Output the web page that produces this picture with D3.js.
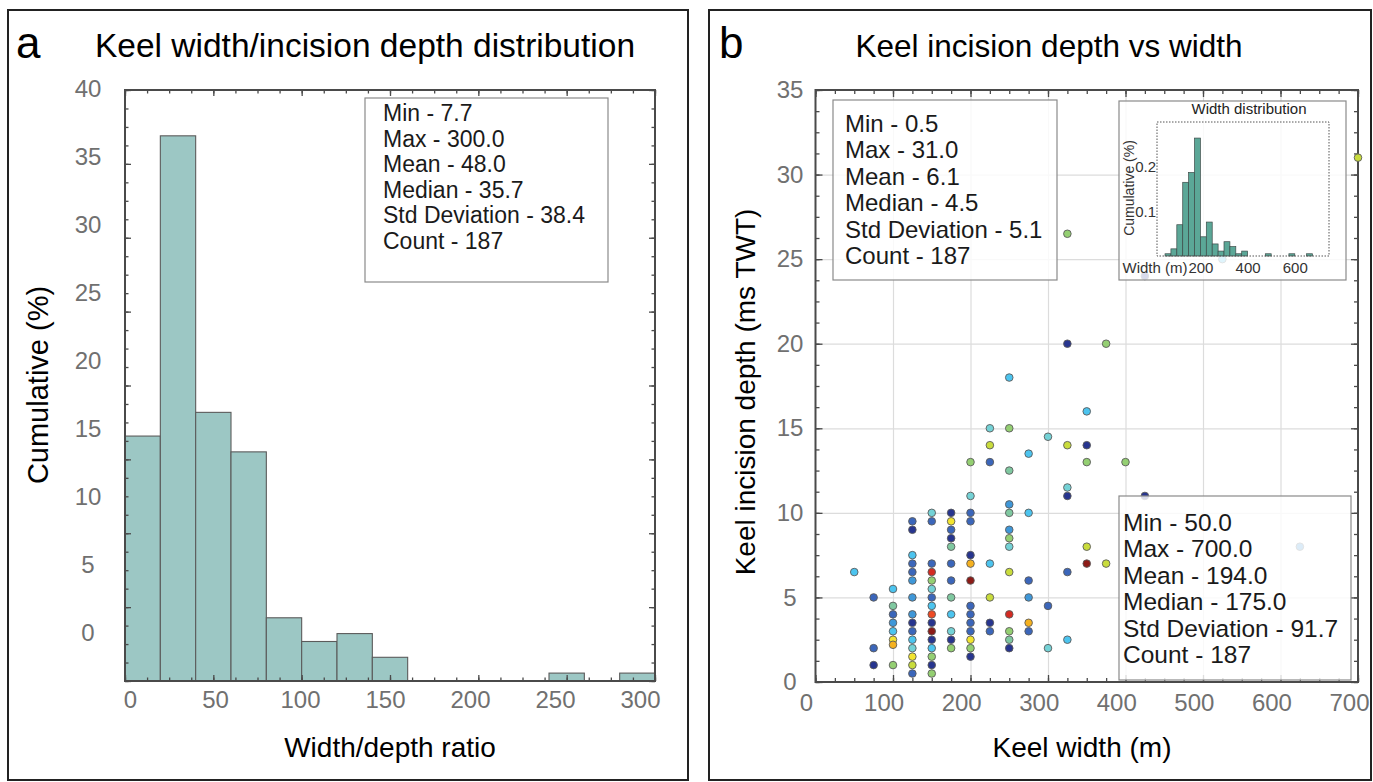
<!DOCTYPE html>
<html>
<head>
<meta charset="utf-8">
<script src="https://cdn.jsdelivr.net/npm/d3@7"></script>
<style>
  html, body { margin: 0; padding: 0; background: #fff; }
  svg { display: block; font-family: "Liberation Sans", Arial, Helvetica, sans-serif; }
</style>
</head>
<body>
<svg id="fig" width="1373" height="782"></svg>
<script>
// ---------- Panel a: keel width/incision depth ratio histogram ----------
const ratioBinStart = [0, 20, 40, 60, 80, 100, 120, 140, 240, 280];
const ratioBinWidth = 20;
const ratioBinCount = [31, 69, 34, 29, 8, 5, 6, 3, 1, 1];
const ratioTotal = 187;
const ratioTicks = [0, 50, 100, 150, 200, 250, 300];
const percentTicks = [0, 5, 10, 15, 20, 25, 30, 35, 40];
const ratioStats = ["Min - 7.7", "Max - 300.0", "Mean - 48.0", "Median - 35.7",
                    "Std Deviation - 38.4", "Count - 187"];

// ---------- Panel b: keel incision depth vs width ----------
const keelWidth = [
  50,
  75, 75, 75,
  100, 100, 100, 100, 100, 100, 100, 100,
  125, 125, 125, 125, 125, 125, 125, 125, 125, 125, 125, 125, 125, 125, 125,
  150, 150, 150, 150, 150, 150, 150, 150, 150, 150, 150, 150, 150, 150, 150, 150,
  175, 175, 175, 175, 175, 175, 175, 175, 175, 175, 175, 175,
  200, 200, 200, 200, 200, 200, 200, 200, 200, 200, 200, 200, 200, 200,
  225, 225, 225, 225, 225, 225, 225,
  250, 250, 250, 250, 250, 250, 250, 250, 250, 250, 250, 250, 250,
  275, 275, 275, 275, 275, 275,
  300, 300, 300,
  325, 325, 325, 325, 325, 325, 325,
  350, 350, 350, 350, 350,
  375, 375,
  400,
  425, 425,
  525,
  625,
  700
];
const keelDepth = [
  6.5,
  5, 2, 1,
  5.5, 4.5, 4, 3.5, 3, 2.5, 2.2, 1,
  9.5, 9, 7.5, 7, 6.5, 6, 5, 4, 3.5, 3, 2.5, 2, 1.5, 1, 0.5,
  10, 9.5, 7, 6.5, 6, 5.5, 5, 4.5, 4, 3.5, 3, 2.5, 2, 1.5, 1, 0.5,
  10, 9.5, 9, 8.5, 8, 7, 6, 5, 4, 3, 2.5, 2,
  13, 11, 10, 9.5, 7.5, 7, 6, 4.5, 4, 3.5, 3, 2.5, 2, 1.5,
  15, 14, 13, 7, 5, 3.5, 3,
  18, 15, 12.5, 10.5, 10, 9, 8.5, 8, 6.5, 4, 3, 2.5, 2,
  13.5, 10, 6, 5, 3.5, 3,
  14.5, 4.5, 2,
  26.5, 20, 14, 11.5, 11, 6.5, 2.5,
  16, 14, 13, 8, 7,
  20, 7,
  13,
  24, 11,
  25,
  8,
  31
];
// colour class of each keel (index into tonePalette)
const keelTone = [
  3,
  1, 1, 0,
  3, 5, 1, 2, 3, 8, 9, 6,
  1, 0, 3, 1, 1, 2, 2, 2, 0, 1, 3, 4, 8, 7, 1,
  4, 1, 1, 11, 6, 4, 1, 3, 10, 0, 12, 0, 3, 6, 0, 6,
  0, 8, 1, 0, 5, 1, 1, 5, 3, 4, 0, 6,
  6, 4, 1, 1, 0, 9, 12, 1, 1, 1, 1, 8, 6, 0,
  4, 7, 1, 3, 7, 0, 1,
  3, 6, 5, 2, 5, 2, 6, 4, 7, 11, 6, 5, 0,
  3, 3, 1, 2, 9, 1,
  4, 1, 4,
  6, 0, 7, 4, 0, 1, 3,
  3, 0, 6, 7, 12,
  6, 7,
  6,
  0, 0,
  3,
  2,
  7
];
const tonePalette = ["#27358f", "#3b66ba", "#3f97d8", "#4cc4ef", "#74d2d6", "#7fc8a0",
                     "#94cf72", "#c9dc3c", "#f2e42f", "#f5b11f", "#ee4a24", "#d42b22", "#8c1b17"];
const widthTicks = [0, 100, 200, 300, 400, 500, 600, 700];
const depthTicks = [0, 5, 10, 15, 20, 25, 30, 35];
const depthStats = ["Min - 0.5", "Max - 31.0", "Mean - 6.1", "Median - 4.5",
                    "Std Deviation - 5.1", "Count - 187"];
const widthStats = ["Min - 50.0", "Max - 700.0", "Mean - 194.0", "Median - 175.0",
                    "Std Deviation - 91.7", "Count - 187"];

// ---------- Inset: keel width distribution ----------
const widthBinStart = [50, 75, 100, 125, 150, 175, 200, 225, 250, 275, 300, 325, 350, 375, 475, 575, 650];
const widthBinSize = 25;
const widthBinShare = [0.005, 0.016, 0.07, 0.165, 0.187, 0.264, 0.043, 0.076, 0.027, 0.011,
                       0.032, 0.021, 0.005, 0.011, 0.005, 0.005, 0.005];
const insetShareTicks = [0.1, 0.2];
const insetWidthTicks = [200, 400, 600];

const svg = d3.select("#fig");
const tickGrey = "#707070";
const axisGrey = "#4a4a4a";

// frames of both panels
svg.append("rect").attr("x", 8).attr("y", 10).attr("width", 680).attr("height", 770)
  .attr("fill", "none").attr("stroke", "#222").attr("stroke-width", 2);
svg.append("rect").attr("x", 709).attr("y", 10).attr("width", 662).attr("height", 770)
  .attr("fill", "none").attr("stroke", "#222").attr("stroke-width", 2);

// helper: inward ticks on all four sides of a plot box
function boxTicks(g, x, y, xMinor, xMajor, yMinor, yMajor, majorLen, minorLen) {
  const [x0, x1] = x.range();
  const [y0, y1] = y.range();
  const sides = [
    [d3.axisTop(x), `translate(0,${y0})`, xMinor, xMajor],
    [d3.axisBottom(x), `translate(0,${y1})`, xMinor, xMajor],
    [d3.axisRight(y), `translate(${x0},0)`, yMinor, yMajor],
    [d3.axisLeft(y), `translate(${x1},0)`, yMinor, yMajor]
  ];
  for (const [ax, tr, minor, major] of sides) {
    for (const [vals, len] of [[minor, minorLen], [major, majorLen]]) {
      const a = g.append("g").attr("transform", tr)
        .call(ax.tickValues(vals).tickSize(len).tickSizeOuter(0).tickFormat(""));
      a.select(".domain").remove();
      a.selectAll("line").attr("stroke", axisGrey).attr("stroke-width", 1.3);
    }
  }
  g.append("rect").attr("x", x0).attr("y", y1).attr("width", x1 - x0).attr("height", y0 - y1)
    .attr("fill", "none").attr("stroke", axisGrey).attr("stroke-width", 2);
}

function statsBox(g, x, y, w, h, lines, tx, firstBase, step, size) {
  g.append("rect").attr("x", x).attr("y", y).attr("width", w).attr("height", h)
    .attr("fill", "#fff").attr("fill-opacity", 0.82)
    .attr("stroke", "#8a8a8a").attr("stroke-width", 1.2);
  g.selectAll(null).data(lines).join("text")
    .attr("x", tx).attr("y", (d, i) => firstBase + i * step)
    .attr("font-size", size).attr("fill", "#1a1a1a").text(d => d);
}

// ======================= Panel a =======================
const pa = svg.append("g");
const xA = d3.scaleLinear([0, 300], [125, 655]);
const yA = d3.scaleLinear([0, 40], [681, 90]);
const xALabel = d3.scaleLinear([0, 300], [130, 640]);
const yALabel = d3.scaleLinear([0, 40], [633, 89]);

pa.append("g").selectAll("rect")
  .data(ratioBinStart.map((s, i) => ({ s, c: ratioBinCount[i] })))
  .join("rect")
  .attr("x", d => xA(d.s))
  .attr("width", d => xA(d.s + ratioBinWidth) - xA(d.s))
  .attr("y", d => yA(d.c / ratioTotal * 100))
  .attr("height", d => yA(0) - yA(d.c / ratioTotal * 100))
  .attr("fill", "#9cc7c4").attr("stroke", "#5b5b5b").attr("stroke-width", 1.1);

boxTicks(pa, xA, yA,
  d3.range(0, 300.01, 12.5), ratioTicks,
  d3.range(0, 40.01, 1.25), percentTicks, 6, 3.5);

const axALeft = pa.append("g").attr("transform", "translate(100,0)")
  .call(d3.axisLeft(yALabel).tickValues(percentTicks).tickSize(0).tickPadding(0));
axALeft.select(".domain").remove();
axALeft.selectAll("text").attr("x", -12).attr("text-anchor", "middle")
  .attr("font-size", 24).attr("fill", tickGrey).attr("font-family", null);

const axABottom = pa.append("g").attr("transform", "translate(0,691)")
  .call(d3.axisBottom(xALabel).tickValues(ratioTicks).tickSize(0).tickPadding(0));
axABottom.select(".domain").remove();
axABottom.selectAll("text").attr("font-size", 24).attr("fill", tickGrey).attr("font-family", null);

pa.append("text").attr("x", 16).attr("y", 58).attr("font-size", 44).text("a");
pa.append("text").attr("x", 365).attr("y", 57).attr("text-anchor", "middle")
  .attr("font-size", 33.5).text("Keel width/incision depth distribution");
pa.append("text").attr("transform", "translate(48,385) rotate(-90)")
  .attr("text-anchor", "middle").attr("font-size", 29).text("Cumulative (%)");
pa.append("text").attr("x", 390).attr("y", 757).attr("text-anchor", "middle")
  .attr("font-size", 28).text("Width/depth ratio");

statsBox(pa, 365, 98, 243, 184, ratioStats, 383, 121, 25.6, 23);

// ======================= Panel b =======================
const pb = svg.append("g");
const xB = d3.scaleLinear([0, 700], [815.5, 1358]);
const yB = d3.scaleLinear([0, 35], [682, 90]);
const xBLabel = d3.scaleLinear([0, 700], [806, 1349]);

// grid
const gx = pb.append("g").attr("transform", "translate(0,682)")
  .call(d3.axisBottom(xB).tickValues(widthTicks.slice(1, -1)).tickSize(-592).tickFormat(""));
gx.select(".domain").remove();
gx.selectAll("line").attr("stroke", "#dcdcdc").attr("stroke-width", 1.2);
const gy = pb.append("g").attr("transform", "translate(815.5,0)")
  .call(d3.axisLeft(yB).tickValues(depthTicks.slice(1, -1)).tickSize(-542.5).tickFormat(""));
gy.select(".domain").remove();
gy.selectAll("line").attr("stroke", "#dcdcdc").attr("stroke-width", 1.2);

boxTicks(pb, xB, yB,
  d3.range(0, 700.01, 25), widthTicks,
  d3.range(0, 35.01, 1.25), depthTicks, 7, 4);

pb.append("g").selectAll("circle")
  .data(keelWidth.map((w, i) => ({ w, d: keelDepth[i], t: keelTone[i] })))
  .join("circle")
  .attr("cx", d => xB(d.w)).attr("cy", d => yB(d.d)).attr("r", 3.8)
  .attr("fill", d => tonePalette[d.t]).attr("stroke", "#5a5a5a").attr("stroke-width", 0.9);

const axBLeft = pb.append("g").attr("transform", "translate(800,0)")
  .call(d3.axisLeft(yB).tickValues(depthTicks).tickSize(0).tickPadding(0));
axBLeft.select(".domain").remove();
axBLeft.selectAll("text").attr("x", -10).attr("text-anchor", "middle")
  .attr("font-size", 24).attr("fill", tickGrey).attr("font-family", null);

const axBBottom = pb.append("g").attr("transform", "translate(0,694)")
  .call(d3.axisBottom(xBLabel).tickValues(widthTicks).tickSize(0).tickPadding(0));
axBBottom.select(".domain").remove();
axBBottom.selectAll("text").attr("font-size", 24).attr("fill", tickGrey).attr("font-family", null);

pb.append("text").attr("x", 719).attr("y", 58).attr("font-size", 44).text("b");
pb.append("text").attr("x", 1049).attr("y", 57).attr("text-anchor", "middle")
  .attr("font-size", 31.5).text("Keel incision depth vs width");
pb.append("text").attr("transform", "translate(755,392) rotate(-90)")
  .attr("text-anchor", "middle").attr("font-size", 28).text("Keel incision depth (ms TWT)");
pb.append("text").attr("x", 1082).attr("y", 757).attr("text-anchor", "middle")
  .attr("font-size", 28).text("Keel width (m)");

statsBox(pb, 833, 100, 224, 180, depthStats, 845, 132, 26.4, 24);
statsBox(pb, 1119, 496, 232, 184, widthStats, 1123, 531, 26.4, 24.5);

// ---------- inset histogram ----------
const pi = pb.append("g");
pi.append("rect").attr("x", 1119).attr("y", 101).attr("width", 227).attr("height", 179)
  .attr("fill", "#fff").attr("fill-opacity", 0.82).attr("stroke", "#8a8a8a").attr("stroke-width", 1.2);
const xI = d3.scaleLinear([16, 745], [1157, 1329]);
const yI = d3.scaleLinear([0, 0.3], [256, 122]);

pi.append("g").selectAll("rect")
  .data(widthBinStart.map((s, i) => ({ s, v: widthBinShare[i] })))
  .join("rect")
  .attr("x", d => xI(d.s)).attr("width", d => xI(d.s + widthBinSize) - xI(d.s))
  .attr("y", d => yI(d.v)).attr("height", d => yI(0) - yI(d.v))
  .attr("fill", "#5ba797").attr("stroke", "#3d4a48").attr("stroke-width", 0.7);

pi.append("rect").attr("x", 1157).attr("y", 122).attr("width", 172).attr("height", 134)
  .attr("fill", "none").attr("stroke", "#555").attr("stroke-width", 1).attr("stroke-dasharray", "1.5,1.5");

const axILeft = pi.append("g").attr("transform", "translate(1157,0)")
  .call(d3.axisLeft(yI).tickValues(insetShareTicks).tickSize(0).tickPadding(1).tickFormat(d3.format(".1f")));
axILeft.select(".domain").remove();
axILeft.selectAll("text").attr("font-size", 15).attr("fill", "#333").attr("font-family", null);

const axIBottom = pi.append("g").attr("transform", "translate(0,262)")
  .call(d3.axisBottom(xI).tickValues(insetWidthTicks).tickSize(0).tickPadding(0));
axIBottom.select(".domain").remove();
axIBottom.selectAll("text").attr("font-size", 15).attr("fill", "#333").attr("font-family", null);

pi.append("text").attr("x", 1155).attr("y", 273).attr("text-anchor", "middle")
  .attr("font-size", 15).attr("fill", "#333").text("Width (m)");
pi.append("text").attr("x", 1249).attr("y", 114).attr("text-anchor", "middle")
  .attr("font-size", 15).attr("fill", "#222").text("Width distribution");
pi.append("text").attr("transform", "translate(1134,188) rotate(-90)")
  .attr("text-anchor", "middle").attr("font-size", 14).attr("fill", "#333").text("Cumulative (%)");
</script>
</body>
</html>
